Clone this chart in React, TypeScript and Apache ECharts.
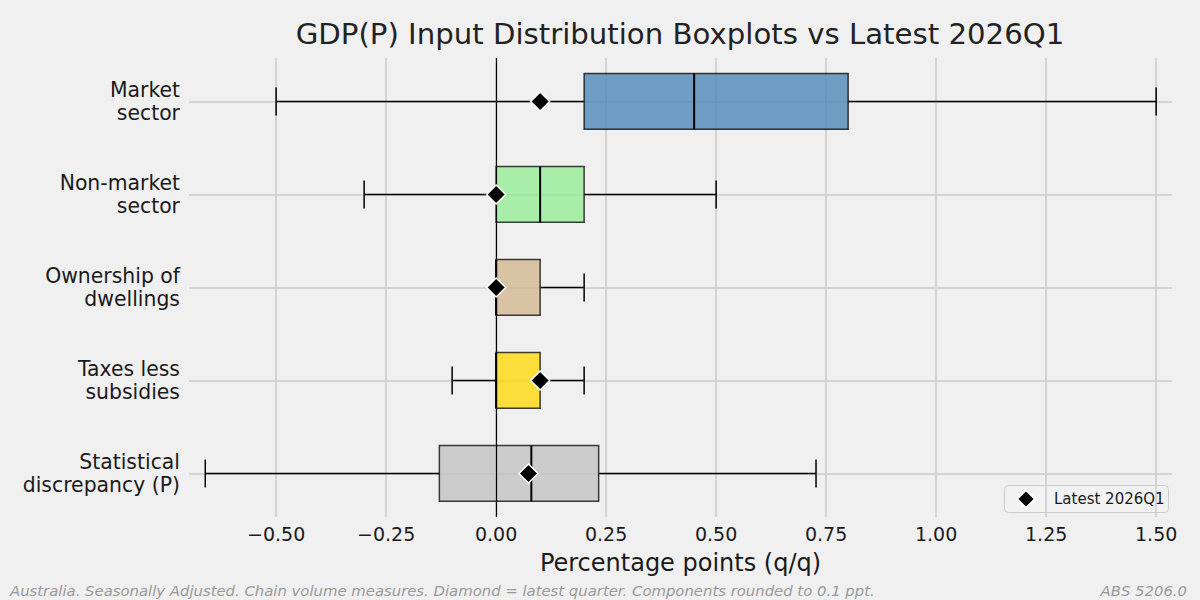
import React, { useEffect, useRef } from 'react';
import * as echarts from 'echarts';

const categories = ['Market\nsector', 'Non-market\nsector', 'Ownership of\ndwellings', 'Taxes less\nsubsidies', 'Statistical\ndiscrepancy (P)'];
const whiskerLow = [-0.5, -0.3, 0, -0.1, -0.661];
const q1 = [0.2, 0, 0, 0, -0.129];
const median = [0.45, 0.1, 0, 0, 0.08];
const q3 = [0.8, 0.2, 0.1, 0.1, 0.233];
const whiskerHigh = [1.5, 0.5, 0.2, 0.2, 0.727];
const latest = [0.1, 0, 0, 0.1, 0.0735];
const boxColors = ['#4682b4', '#90ee90', '#d2b48c', '#ffd700', '#c0c0c0'];
const xTicks = [-0.5, -0.25, 0, 0.25, 0.5, 0.75, 1.0, 1.25, 1.5];
const yTicks = [0, 1, 2, 3, 4];

const FONT = 'DejaVu Sans';

function buildOption() {
  const boxData = categories.map((_, i) => [i, whiskerLow[i], q1[i], median[i], q3[i], whiskerHigh[i]]);
  const latestData = latest.map((v, i) => [v, i]);
  return {
    animation: false,
    backgroundColor: '#f0f0f0',
    textStyle: { fontFamily: FONT },
    grid: { left: 189, right: 28, top: 58, bottom: 83, containLabel: false },
    xAxis: {
      type: 'value',
      min: -0.698,
      max: 1.536,
      name: 'Percentage points (q/q)',
      nameLocation: 'middle',
      nameGap: 34,
      nameTextStyle: { fontSize: 24, color: '#1a1a1a', fontFamily: FONT },
      axisLine: { show: false },
      axisTick: { show: false, customValues: xTicks },
      axisLabel: {
        customValues: xTicks,
        fontSize: 19,
        color: '#1a1a1a',
        margin: 7,
        fontFamily: FONT,
        formatter: (v: number) => v.toFixed(2).replace('-', '\u2212'),
      },
      splitLine: { show: true, lineStyle: { color: '#cbcbcb', width: 1.5 } },
    },
    yAxis: {
      type: 'value',
      inverse: true,
      min: -0.467,
      max: 4.468,
      axisLine: { show: false },
      axisTick: { show: false, customValues: yTicks },
      axisLabel: {
        customValues: yTicks,
        fontSize: 20.4,
        lineHeight: 23,
        color: '#1a1a1a',
        margin: 9,
        fontFamily: FONT,
        align: 'right',
        formatter: (v: number) => categories[Math.round(v)] ?? '',
      },
      splitLine: { show: true, lineStyle: { color: '#cbcbcb', width: 1.5 } },
    },
    legend: {
      show: true,
      data: [{ name: 'Latest 2026Q1', icon: 'diamond' }],
      left: 1004,
      top: 485,
      orient: 'horizontal',
      padding: [4, 0, 4, 12],
      itemWidth: 18,
      itemHeight: 18,
      formatter: (name: string) => '{s|}{t|' + name + '}',
      textStyle: {
        fontSize: 15,
        color: '#1a1a1a',
        fontFamily: FONT,
        rich: {
          s: { width: 14, fontSize: 15 },
          t: { fontSize: 15, color: '#1a1a1a', fontFamily: FONT },
        },
      },
    },
    graphic: [
      {
        type: 'rect',
        z: -1,
        shape: { x: 1004.5, y: 485.5, width: 164, height: 27, r: 4 },
        style: { fill: 'rgba(242,242,242,0.8)', stroke: '#cccccc', lineWidth: 1 },
      },
      {
        type: 'text',
        x: 680,
        y: 34,
        style: {
          text: 'GDP(P) Input Distribution Boxplots vs Latest 2026Q1',
          fontSize: 29.2,
          fontFamily: FONT,
          fill: '#222222',
          textAlign: 'center',
          textVerticalAlign: 'middle',
        },
      },
      {
        type: 'text',
        x: 10,
        y: 591,
        style: {
          text: 'Australia. Seasonally Adjusted. Chain volume measures. Diamond = latest quarter. Components rounded to 0.1 ppt.',
          fontSize: 14.85,
          fontStyle: 'italic',
          fontFamily: FONT,
          fill: '#999999',
          textAlign: 'left',
          textVerticalAlign: 'middle',
        },
      },
      {
        type: 'text',
        x: 1187,
        y: 591,
        style: {
          text: 'ABS 5206.0',
          fontSize: 14.85,
          fontStyle: 'italic',
          fontFamily: FONT,
          fill: '#999999',
          textAlign: 'right',
          textVerticalAlign: 'middle',
        },
      },
    ],
    series: [
      {
        type: 'custom',
        name: 'boxes',
        z: 2,
        data: boxData,
        encode: { x: [1, 2, 3, 4, 5], y: 0 },
        renderItem: (params: any, api: any) => {
          const i = api.value(0);
          const lo = api.value(1);
          const a = api.value(2);
          const m = api.value(3);
          const b = api.value(4);
          const hi = api.value(5);
          const pLo = api.coord([lo, i]);
          const pA = api.coord([a, i]);
          const pM = api.coord([m, i]);
          const pB = api.coord([b, i]);
          const pHi = api.coord([hi, i]);
          const unit = Math.abs(api.size([0, 1])[1]);
          const boxH = 0.6 * unit;
          const capH = 0.3 * unit;
          const y = pA[1];
          const lineStyle = { stroke: '#000000', lineWidth: 1.5 };
          return {
            type: 'group',
            children: [
              { type: 'line', shape: { x1: pLo[0], y1: y, x2: pA[0], y2: y }, style: lineStyle },
              { type: 'line', shape: { x1: pB[0], y1: y, x2: pHi[0], y2: y }, style: lineStyle },
              { type: 'line', shape: { x1: pLo[0], y1: y - capH / 2, x2: pLo[0], y2: y + capH / 2 }, style: lineStyle },
              { type: 'line', shape: { x1: pHi[0], y1: y - capH / 2, x2: pHi[0], y2: y + capH / 2 }, style: lineStyle },
              {
                type: 'rect',
                shape: { x: pA[0], y: y - boxH / 2, width: pB[0] - pA[0], height: boxH },
                style: { fill: boxColors[i], fillOpacity: 0.75, stroke: 'rgba(0,0,0,0.75)', lineWidth: 1.5 },
              },
              { type: 'line', shape: { x1: pM[0], y1: y - boxH / 2, x2: pM[0], y2: y + boxH / 2 }, style: { stroke: '#000000', lineWidth: 2 } },
            ],
          };
        },
        markLine: {
          silent: true,
          symbol: 'none',
          z: 3,
          label: { show: false },
          lineStyle: { color: '#000000', width: 1.2, type: 'solid' },
          data: [{ xAxis: 0 }],
        },
      },
      {
        type: 'scatter',
        name: 'Latest 2026Q1',
        z: 4,
        data: latestData,
        symbol: 'diamond',
        symbolSize: 19,
        itemStyle: { color: '#000000', borderColor: '#ffffff', borderWidth: 1.5, opacity: 1 },
      },
    ],
  };
}

export default function App() {
  const ref = useRef<HTMLDivElement>(null);
  useEffect(() => {
    if (!ref.current) return;
    const chart = echarts.init(ref.current, null, { renderer: 'svg' });
    chart.setOption(buildOption() as any);
    return () => chart.dispose();
  }, []);
  return (
    <div
      ref={ref}
      style={{ position: 'fixed', left: 0, top: 0, width: 1200, height: 600, background: '#f0f0f0' }}
    />
  );
}
